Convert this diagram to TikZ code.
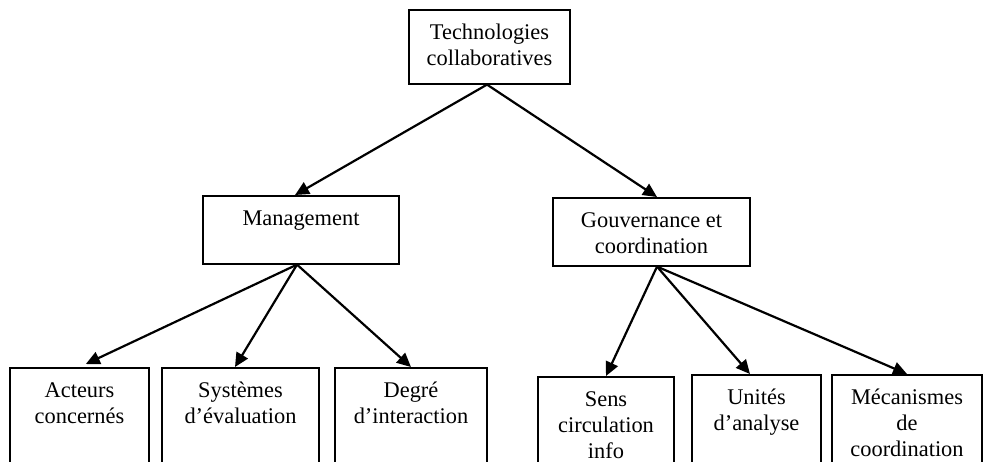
\documentclass[tikz,border=0pt]{standalone}
\usepackage{fontspec}
\setmainfont{Liberation Serif}
\usepackage{tikz}
\usetikzlibrary{arrows.meta}
\newcommand{\boxtext}[3]{\parbox[t][#2][t]{#1}{\centering\rule{0pt}{15pt}#3}}

\begin{document}
\begin{tikzpicture}[x=0.5pt, y=-0.5pt,
		box/.style={draw, line width=0.8pt, anchor=north, inner sep=0pt, font=\textsize},
		arrow/.style={line width=1.1pt, -{Triangle[length=7pt, width=6.5pt]}}]
		\def\textsize{\fontsize{11.2}{13}\selectfont}
		\def\low{60pt}
		
		\useasboundingbox (0,0) rectangle (983,461);
		\clip (0,0) rectangle (983,461);
		
		% draw top box
		\draw (489.5,9) node[box] (tech) {\boxtext{80.5pt}{37pt}{Technologies\\collaboratives}};
		% draw middle boxes
		\draw (301,195) node[box] (mgmt) {\boxtext{98pt}{34pt}{Management}};
		\draw (651.5,197) node[box] (gouv) {\boxtext{98.5pt}{34pt}{Gouvernance et\\coordination}};
		% draw bottom boxes (cut by the page)
		\draw (79.5,367) node[box] (acteurs) {\boxtext{69.5pt}{\low}{Acteurs\\concernés}};
		\draw (240.5,367) node[box] (systemes) {\boxtext{78.5pt}{\low}{Systèmes\\d’évaluation}};
		\draw (411,367) node[box] (degre) {\boxtext{76pt}{\low}{Degré\\d’interaction}};
		\draw (606,376) node[box] (sens) {\boxtext{68pt}{\low}{Sens\\circulation\\info}};
		\draw (756.5,374) node[box] (unites) {\boxtext{64.5pt}{\low}{Unités\\d’analyse}};
		\draw (907,374) node[box] (meca) {\boxtext{75pt}{\low}{Mécanismes\\de\\coordination}};
		
		% draw arrows
		\draw[arrow] ([xshift=-1.25pt]tech.south) -- ([xshift=-3pt]mgmt.north);
		\draw[arrow] ([xshift=-1.25pt]tech.south) -- ([xshift=2.75pt]gouv.north);
		\draw[arrow, shorten >=3.5pt] ([xshift=-2pt]mgmt.south) -- (acteurs.north);
		\draw[arrow] ([xshift=-2pt]mgmt.south) -- ([xshift=-2.75pt]systemes.north);
		\draw[arrow] ([xshift=-2pt]mgmt.south) -- (degre.north);
		\draw[arrow] ([xshift=2.75pt]gouv.south) -- (sens.north);
		\draw[arrow] ([xshift=2.75pt]gouv.south) -- ([xshift=-3.25pt]unites.north);
		\draw[arrow] ([xshift=2.75pt]gouv.south) -- (meca.north);
\end{tikzpicture}
\end{document}
